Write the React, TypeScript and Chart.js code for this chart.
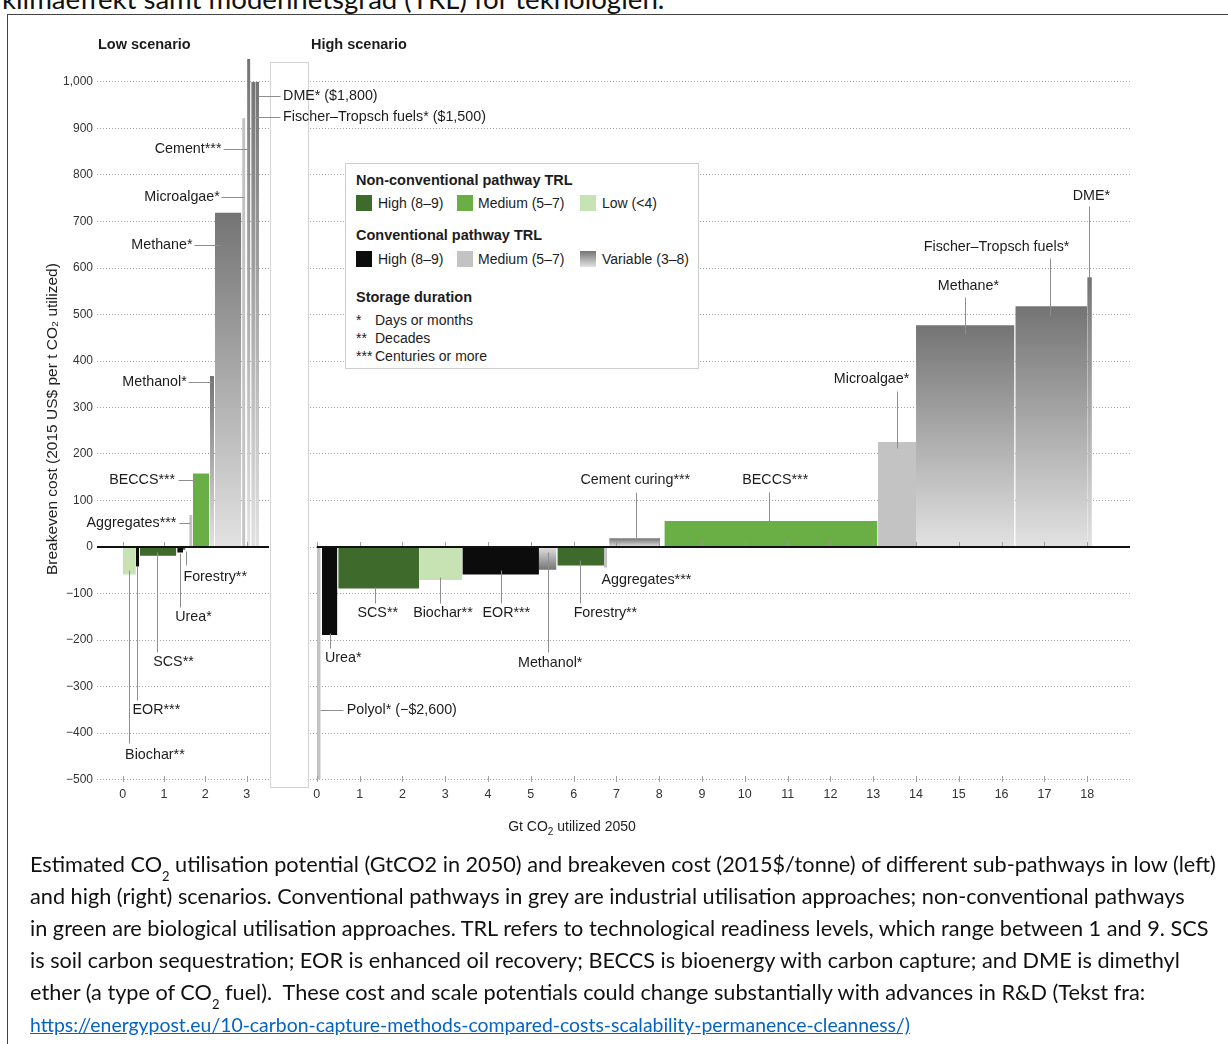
import React, { useEffect, useRef } from 'react';
import { Chart, registerables } from 'chart.js';

Chart.register(...registerables);

const SANS = '"Liberation Sans", Arial, Helvetica, sans-serif';
const CAPTION_FONT = 'Lato, "Open Sans", sans-serif';

// ---------------- Data: Low scenario ----------------
const lowNames = ['Biochar**', 'EOR***', 'SCS**', 'Urea*', 'Forestry**', 'Aggregates***', 'BECCS***', 'Methanol*', 'Methane*', 'Microalgae*', 'Cement***', 'Fischer–Tropsch fuels*', 'DME*'];
const lowStart = [0.0, 0.32, 0.42, 1.32, 1.46, 1.61, 1.7, 2.11, 2.23, 2.89, 3.01, 3.11, 3.21];
const lowUtil = [0.32, 0.08, 0.88, 0.14, 0.06, 0.08, 0.39, 0.1, 0.64, 0.08, 0.08, 0.1, 0.09];
const lowCost = [-59, -42, -19, -12, -6, 69, 158, 368, 719, 922, 1050, 1000, 1000];
const lowTRL = ['ncLow', 'cHigh', 'ncHigh', 'cHigh', 'ncHigh', 'cMed', 'ncMed', 'cVar', 'cVar', 'cMed', 'cVar', 'cVar', 'cVar'];

// ---------------- Data: High scenario ----------------
const highNames = ['Polyol*', 'Urea*', 'SCS**', 'Biochar**', 'EOR***', 'Methanol*', 'Forestry**', 'Aggregates***', 'Cement curing***', 'BECCS***', 'Microalgae*', 'Methane*', 'Fischer–Tropsch fuels*', 'DME*'];
const highStart = [0.0, 0.12, 0.5, 2.39, 3.4, 5.19, 5.62, 6.71, 6.83, 8.12, 13.11, 14.0, 16.32, 18.0];
const highUtil = [0.09, 0.36, 1.89, 1.01, 1.79, 0.41, 1.09, 0.07, 1.19, 4.98, 0.89, 2.3, 1.68, 0.11];
const highCost = [-2600, -189, -89, -71, -59, -49, -40, -44, 19, 56, 226, 477, 518, 580];
const highTRL = ['cMed', 'cHigh', 'ncHigh', 'ncLow', 'cHigh', 'cVar', 'ncHigh', 'cMed', 'cVar', 'ncMed', 'cMed', 'cVar', 'cVar', 'cVar'];

// ---------------- Axes ----------------
const Y_MIN = -500;
const Y_MAX = 1050;
const Y_STEP = 100;
const lowXTicks = [0, 1, 2, 3];
const highXTicks = [0, 1, 2, 3, 4, 5, 6, 7, 8, 9, 10, 11, 12, 13, 14, 15, 16, 17, 18];
const LOW_X_MIN = -0.62;
const LOW_X_MAX = 3.54;
const HIGH_X_MIN = -0.16;
const HIGH_X_MAX = 19;

// ---------------- Annotations (label text + leader lines, in data units) ----------------
const lowLabels = [
  { text: 'DME* ($1,800)', x: 3.88, y: 970, align: 'left', line: [3.27, 970, 3.81, 970] },
  { text: 'Fischer–Tropsch fuels* ($1,500)', x: 3.88, y: 925, align: 'left', line: [3.15, 925, 3.81, 925] },
  { text: 'Cement***', x: 2.39, y: 856, align: 'right', line: [2.42, 856, 3.05, 856] },
  { text: 'Microalgae*', x: 2.35, y: 753, align: 'right', line: [2.39, 753, 2.93, 753] },
  { text: 'Methane*', x: 1.69, y: 649, align: 'right', line: [1.72, 649, 2.35, 649] },
  { text: 'Methanol*', x: 1.55, y: 355, align: 'right', line: [1.58, 355, 2.15, 355] },
  { text: 'BECCS***', x: 1.27, y: 144, align: 'right', line: [1.34, 144, 1.75, 144] },
  { text: 'Aggregates***', x: 1.3, y: 52, align: 'right', line: [1.36, 52, 1.63, 52] },
  { text: 'Forestry**', x: 1.47, y: -65, align: 'left', line: [1.53, -8, 1.53, -39] },
  { text: 'Urea*', x: 1.27, y: -150, align: 'left', line: [1.39, -13, 1.39, -128] },
  { text: 'SCS**', x: 0.74, y: -247, align: 'left', line: [0.84, -10, 0.84, -225] },
  { text: 'EOR***', x: 0.24, y: -351, align: 'left', line: [0.35, -40, 0.35, -329] },
  { text: 'Biochar**', x: 0.06, y: -447, align: 'left', line: [0.16, -50, 0.16, -422] },
];

const highLabels = [
  { text: 'Urea*', x: 0.19, y: -239, align: 'left', line: [0.31, -185, 0.31, -217] },
  { text: 'Polyol* (−$2,600)', x: 0.7, y: -351, align: 'left', line: [0.07, -351, 0.6, -351] },
  { text: 'SCS**', x: 0.95, y: -142, align: 'left', line: [1.36, -85, 1.36, -120] },
  { text: 'Biochar**', x: 2.25, y: -142, align: 'left', line: [2.87, -64, 2.87, -120] },
  { text: 'EOR***', x: 3.87, y: -142, align: 'left', line: [4.3, -49, 4.3, -120] },
  { text: 'Forestry**', x: 6.0, y: -142, align: 'left', line: [6.16, -28, 6.16, -120] },
  { text: 'Methanol*', x: 4.7, y: -249, align: 'left', line: [5.4, -10, 5.4, -225] },
  { text: 'Aggregates***', x: 6.65, y: -71, align: 'left', line: null },
  { text: 'Cement curing***', x: 6.16, y: 144, align: 'left', line: [7.45, 118, 7.45, 19] },
  { text: 'BECCS***', x: 9.94, y: 144, align: 'left', line: [10.56, 118, 10.56, 36] },
  { text: 'Microalgae*', x: 12.08, y: 361, align: 'left', line: [13.55, 336, 13.55, 212] },
  { text: 'Methane*', x: 14.51, y: 562, align: 'left', line: [15.15, 538, 15.15, 459] },
  { text: 'Fischer–Tropsch fuels*', x: 14.18, y: 644, align: 'left', line: [17.14, 622, 17.14, 498] },
  { text: 'DME*', x: 17.66, y: 755, align: 'left', line: [18.04, 733, 18.04, 580] },
];

const COLORS: Record<string, string> = {
  ncHigh: '#3e6a2c',
  ncMed: '#6aae46',
  ncLow: '#c7e2b3',
  cHigh: '#0c0c0c',
  cMed: '#c3c3c3',
};
const VAR_DARK = '#747474';
const VAR_LIGHT = '#e2e2e2';

function varGradient(chart: any, v: number) {
  const { ctx, chartArea, scales } = chart;
  if (!chartArea || !scales || !scales.y) return '#999999';
  const clamped = Math.max(Y_MIN, Math.min(Y_MAX, v));
  const yv = scales.y.getPixelForValue(clamped);
  const y0 = scales.y.getPixelForValue(0);
  if (Math.abs(yv - y0) < 1) return '#999999';
  const g = ctx.createLinearGradient(0, yv, 0, y0);
  g.addColorStop(0, VAR_DARK);
  g.addColorStop(1, VAR_LIGHT);
  return g;
}

function barDatasets(names: string[], start: number[], util: number[], cost: number[], trl: string[]) {
  return cost.map((c, i) => {
    const x0 = start[i];
    const x1 = start[i] + util[i];
    return {
      label: names[i],
      data: [
        { x: x0, y: 0 },
        { x: x0, y: c },
        { x: x1, y: c },
        { x: x1, y: 0 },
      ],
      fill: 'origin',
      backgroundColor: trl[i] === 'cVar' ? (ctx: any) => varGradient(ctx.chart, c) : COLORS[trl[i]],
      borderColor: 'rgba(0,0,0,0)',
      borderWidth: 0,
      pointRadius: 0,
      pointHoverRadius: 0,
      tension: 0,
    };
  });
}

function overlayPlugin(key: string, labels: any[], xTicks: number[], zeroFrom: number | null, gapBox: boolean) {
  return {
    id: 'overlay_' + key,
    beforeDatasetsDraw(chart: any) {
      if (!gapBox) return;
      const { ctx, chartArea: a } = chart;
      ctx.save();
      const x0 = Math.round(a.right) + 1.5;
      const x1 = x0 + 38;
      const y0 = Math.round(a.top) + 3.5;
      const y1 = Math.round(a.bottom) + 7.5;
      ctx.fillStyle = '#ffffff';
      ctx.fillRect(x0, y0, x1 - x0, y1 - y0);
      ctx.strokeStyle = '#d2d2d2';
      ctx.lineWidth = 1;
      ctx.strokeRect(x0, y0, x1 - x0, y1 - y0);
      ctx.restore();
    },
    afterDatasetsDraw(chart: any) {
      const { ctx, chartArea: a, scales } = chart;
      const x = scales.x;
      const y = scales.y;
      const y0 = Math.round(y.getPixelForValue(0));
      const yb = Math.round(y.getPixelForValue(Y_MIN));
      ctx.save();
      // small tick marks on the zero axis and the bottom line
      ctx.strokeStyle = 'rgba(150,150,150,0.9)';
      ctx.lineWidth = 1;
      for (const t of xTicks) {
        const px = Math.round(x.getPixelForValue(t)) + 0.5;
        ctx.beginPath();
        ctx.moveTo(px, y0 - 5);
        ctx.lineTo(px, y0);
        ctx.moveTo(px, yb - 4);
        ctx.lineTo(px, yb + 2);
        ctx.stroke();
      }
      // zero axis line
      ctx.strokeStyle = '#111111';
      ctx.lineWidth = 2.2;
      ctx.beginPath();
      ctx.moveTo(zeroFrom == null ? a.left : x.getPixelForValue(zeroFrom), y0);
      ctx.lineTo(a.right, y0);
      ctx.stroke();
      // leader lines
      ctx.strokeStyle = '#8e8e8e';
      ctx.lineWidth = 1;
      for (const l of labels) {
        if (!l.line) continue;
        const [ax, ay, bx, by] = l.line;
        const p1x = Math.round(x.getPixelForValue(ax)) + 0.5;
        const p1y = Math.round(y.getPixelForValue(ay)) + 0.5;
        const p2x = Math.round(x.getPixelForValue(bx)) + 0.5;
        const p2y = Math.round(y.getPixelForValue(by)) + 0.5;
        ctx.beginPath();
        ctx.moveTo(p1x, p1y);
        ctx.lineTo(p2x, p2y);
        ctx.stroke();
      }
      // label texts
      ctx.fillStyle = '#1c1c1c';
      ctx.font = `14.3px ${SANS}`;
      ctx.textBaseline = 'middle';
      for (const l of labels) {
        ctx.textAlign = l.align || 'left';
        ctx.fillText(l.text, x.getPixelForValue(l.x), y.getPixelForValue(l.y));
      }
      ctx.restore();
    },
  };
}

function yTickLabel(v: any) {
  const n = Number(v);
  if (n < 0) return '−' + Math.abs(n).toLocaleString('en-US');
  return n.toLocaleString('en-US');
}

function makeConfig(opts: any): any {
  return {
    type: 'line',
    data: {
      datasets: barDatasets(opts.names, opts.start, opts.util, opts.cost, opts.trl),
    },
    options: {
      animation: false,
      responsive: true,
      maintainAspectRatio: false,
      devicePixelRatio: 1,
      events: [],
      layout: { padding: opts.padding },
      plugins: {
        legend: { display: false },
        tooltip: { enabled: false },
        title: { display: false },
      },
      scales: {
        x: {
          type: 'linear',
          min: opts.xMin,
          max: opts.xMax,
          afterBuildTicks: (s: any) => {
            s.ticks = opts.xTicks.map((v: number) => ({ value: v }));
          },
          afterFit: (s: any) => {
            s.height = 30;
          },
          ticks: {
            padding: 8,
            color: '#333333',
            autoSkip: false,
            maxRotation: 0,
            font: { family: SANS, size: 12.5 },
            callback: (v: any) => String(v),
          },
          grid: { display: false, drawTicks: false },
          border: { display: false },
        },
        y: {
          type: 'linear',
          min: Y_MIN,
          max: Y_MAX,
          afterFit: (s: any) => {
            s.width = opts.yWidth;
          },
          ticks: {
            display: opts.showY,
            stepSize: Y_STEP,
            includeBounds: false,
            padding: 4,
            color: '#333333',
            font: { family: SANS, size: 12 },
            callback: yTickLabel,
          },
          grid: { color: '#a2a2a2', lineWidth: 1, drawTicks: false },
          border: { display: false, dash: [1, 2] },
          title: {
            display: opts.showY,
            text: 'Breakeven cost (2015 US$ per t CO₂ utilized)',
            color: '#222222',
            font: { family: SANS, size: 15.5 },
            padding: { top: 3, bottom: 0 },
          },
        },
      },
    },
    plugins: [overlayPlugin(opts.key, opts.labels, opts.xTicks, opts.zeroFrom, opts.gapBox)],
  };
}

const abs = (l: number, t: number, extra: any = {}) => ({ position: 'absolute' as const, left: l, top: t, ...extra });

function Swatch({ l, t, bg }: { l: number; t: number; bg: string }) {
  return <div style={abs(l, t, { width: 16, height: 16, background: bg })} />;
}

function LegendText({ l, cy, children, bold }: any) {
  return (
    <div style={abs(l, cy - 9, { lineHeight: '18px', fontSize: bold ? 14.5 : 14, fontWeight: bold ? 700 : 400, whiteSpace: 'nowrap', color: '#1c1c1c' })}>
      {children}
    </div>
  );
}

const captionLines = [
  'Estimated CO|2| utilisation potential (GtCO2 in 2050) and breakeven cost (2015$/tonne) of different sub-pathways in low (left)',
  'and high (right) scenarios. Conventional pathways in grey are industrial utilisation approaches; non-conventional pathways',
  'in green are biological utilisation approaches. TRL refers to technological readiness levels, which range between 1 and 9. SCS',
  'is soil carbon sequestration; EOR is enhanced oil recovery; BECCS is bioenergy with carbon capture; and DME is dimethyl',
  'ether (a type of CO|2| fuel).  These cost and scale potentials could change substantially with advances in R&D (Tekst fra:',
];
const captionLink = 'https://energypost.eu/10-carbon-capture-methods-compared-costs-scalability-permanence-cleanness/)';

function CaptionLine({ text }: { text: string }) {
  const parts = text.split('|');
  return (
    <>
      {parts.map((p, i) =>
        i % 2 === 1 ? (
          <span key={i} style={{ fontSize: 13, position: 'relative', top: 9 }}>
            {p}
          </span>
        ) : (
          <span key={i} style={{ whiteSpace: 'pre' }}>{p}</span>
        )
      )}
    </>
  );
}

export default function App() {
  const lowRef = useRef<HTMLCanvasElement>(null);
  const highRef = useRef<HTMLCanvasElement>(null);

  useEffect(() => {
    const low = new Chart(
      lowRef.current as HTMLCanvasElement,
      makeConfig({
        key: 'low',
        names: lowNames,
        start: lowStart,
        util: lowUtil,
        cost: lowCost,
        trl: lowTRL,
        xMin: LOW_X_MIN,
        xMax: LOW_X_MAX,
        xTicks: lowXTicks,
        labels: lowLabels,
        showY: true,
        yWidth: 57,
        padding: { top: 58.75, bottom: 50.5, left: 40, right: 251 },
        zeroFrom: null,
        gapBox: true,
      })
    );
    const high = new Chart(
      highRef.current as HTMLCanvasElement,
      makeConfig({
        key: 'high',
        names: highNames,
        start: highStart,
        util: highUtil,
        cost: highCost,
        trl: highTRL,
        xMin: HIGH_X_MIN,
        xMax: HIGH_X_MAX,
        xTicks: highXTicks,
        labels: highLabels,
        showY: false,
        yWidth: 10,
        padding: { top: 58.75, bottom: 50.5, left: 0, right: 98 },
        zeroFrom: 0,
        gapBox: false,
      })
    );
    return () => {
      low.destroy();
      high.destroy();
    };
  }, []);

  return (
    <div style={abs(0, 0, { width: 1228, height: 1044, overflow: 'hidden', background: '#ffffff', fontFamily: SANS, color: '#1c1c1c' })}>
      {/* clipped document heading */}
      <div style={abs(2, -15.5, { fontFamily: CAPTION_FONT, fontSize: 27.6, lineHeight: '27.6px', whiteSpace: 'nowrap', color: '#111' })}>
        klimaeffekt samt modenhetsgrad (TRL) for teknologien.
      </div>
      {/* document frame */}
      <div style={abs(7, 14, { width: 1260, height: 1100, border: '1px solid #444', boxSizing: 'border-box' })} />

      {/* charts */}
      <div style={abs(300, 0, { width: 928, height: 860, zIndex: 1 })}>
        <canvas ref={highRef} />
      </div>
      <div style={abs(0, 0, { width: 520, height: 860, zIndex: 2 })}>
        <canvas ref={lowRef} />
      </div>

      {/* panel titles */}
      <div style={abs(98, 35, { zIndex: 3, fontWeight: 700, fontSize: 14.5, lineHeight: '18px', whiteSpace: 'nowrap' })}>Low scenario</div>
      <div style={abs(311, 35, { zIndex: 3, fontWeight: 700, fontSize: 14.5, lineHeight: '18px', whiteSpace: 'nowrap' })}>High scenario</div>

      {/* x axis title */}
      <div style={abs(572, 817, { zIndex: 3, transform: 'translateX(-50%)', fontSize: 14, lineHeight: '18px', whiteSpace: 'nowrap', color: '#222' })}>
        Gt CO<span style={{ fontSize: 10, position: 'relative', top: 4 }}>2</span> utilized 2050
      </div>

      {/* legend */}
      <div style={abs(345, 163, { zIndex: 4, width: 354, height: 206, background: '#fff', border: '1px solid #cdcdcd', boxSizing: 'border-box' })} />
      <div style={abs(0, 0, { zIndex: 5 })}>
        <LegendText l={356} cy={180} bold>
          Non-conventional pathway TRL
        </LegendText>
        <Swatch l={356} t={195} bg={COLORS.ncHigh} />
        <LegendText l={378} cy={203}>High (8–9)</LegendText>
        <Swatch l={457} t={195} bg={COLORS.ncMed} />
        <LegendText l={478} cy={203}>Medium (5–7)</LegendText>
        <Swatch l={580} t={195} bg={COLORS.ncLow} />
        <LegendText l={602} cy={203}>Low (&lt;4)</LegendText>

        <LegendText l={356} cy={235} bold>
          Conventional pathway TRL
        </LegendText>
        <Swatch l={356} t={251} bg={COLORS.cHigh} />
        <LegendText l={378} cy={259}>High (8–9)</LegendText>
        <Swatch l={457} t={251} bg={COLORS.cMed} />
        <LegendText l={478} cy={259}>Medium (5–7)</LegendText>
        <Swatch l={580} t={251} bg={`linear-gradient(to bottom, ${VAR_DARK}, ${VAR_LIGHT})`} />
        <LegendText l={602} cy={259}>Variable (3–8)</LegendText>

        <LegendText l={356} cy={297} bold>
          Storage duration
        </LegendText>
        <LegendText l={356} cy={320}>*</LegendText>
        <LegendText l={375} cy={320}>Days or months</LegendText>
        <LegendText l={356} cy={338}>**</LegendText>
        <LegendText l={375} cy={338}>Decades</LegendText>
        <LegendText l={356} cy={356}>***</LegendText>
        <LegendText l={375} cy={356}>Centuries or more</LegendText>
      </div>

      {/* caption */}
      <div style={abs(30, 848, { zIndex: 3, fontFamily: CAPTION_FONT, fontSize: 21.7, lineHeight: '32px', color: '#111' })}>
        {captionLines.map((t, i) => (
          <div key={i} style={{ whiteSpace: 'nowrap', height: 32 }}>
            <CaptionLine text={t} />
          </div>
        ))}
        <div style={{ whiteSpace: 'nowrap', height: 32 }}>
          <span style={{ color: '#0563c1', textDecoration: 'underline', fontSize: 19.4 }}>{captionLink}</span>
        </div>
      </div>
    </div>
  );
}
